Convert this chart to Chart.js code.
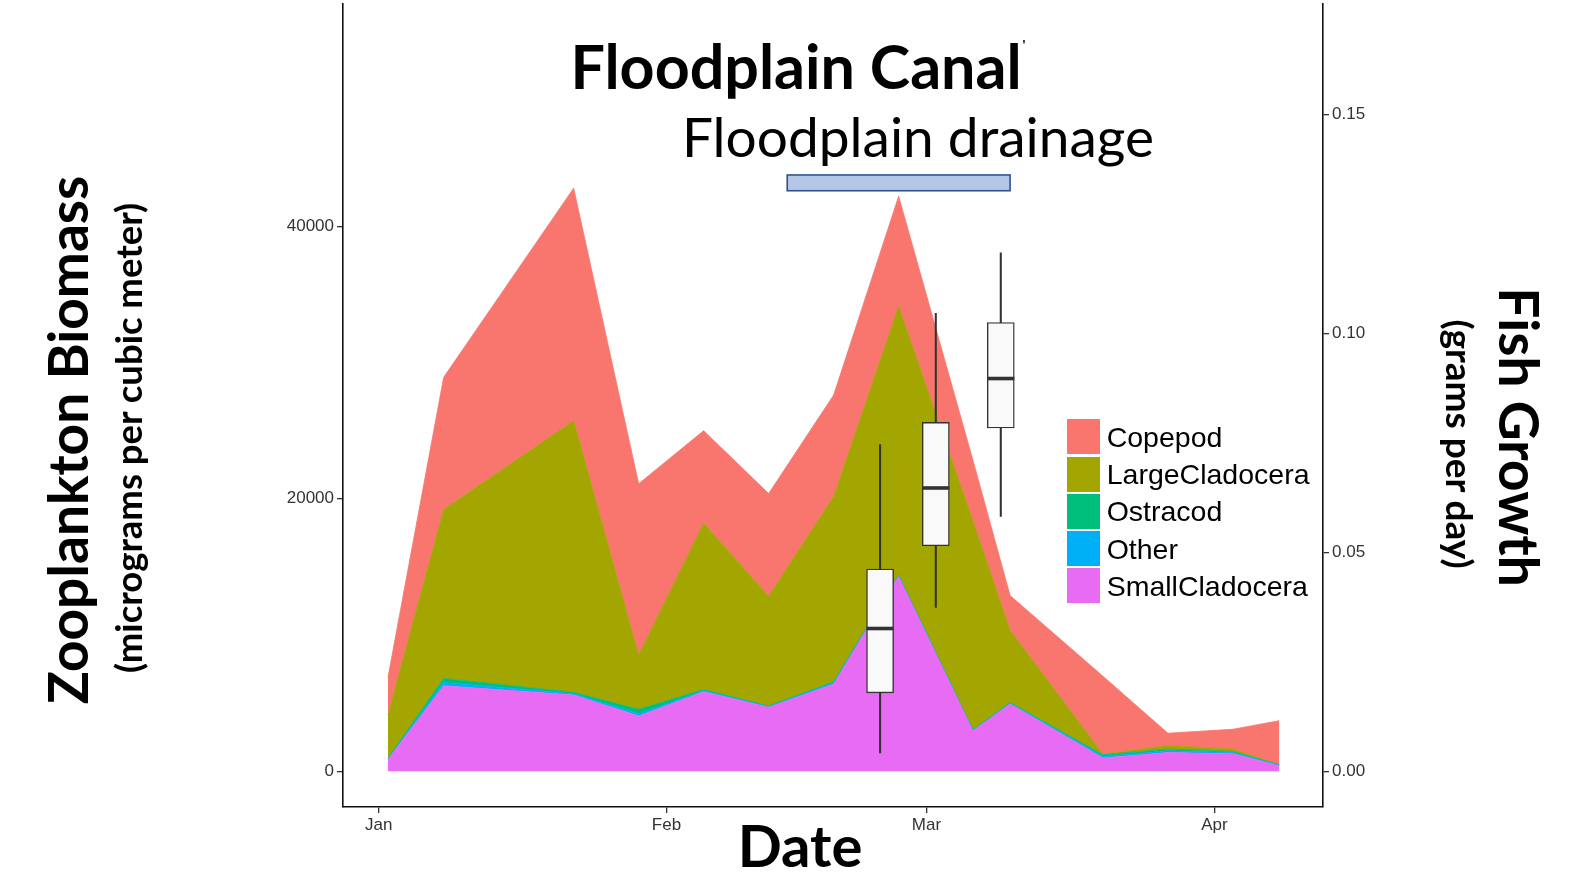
<!DOCTYPE html>
<html>
<head>
<meta charset="utf-8">
<script src="https://cdn.jsdelivr.net/npm/chart.js@4.4.1/dist/chart.umd.min.js"></script>
<style>
  html, body { margin: 0; padding: 0; background: #ffffff; }
  #wrap { position: relative; width: 1574px; height: 885px; overflow: hidden; background: #fff; }
  #c { position: absolute; left: 0; top: 0; }
  .txt { position: absolute; white-space: nowrap; line-height: 1; color: #000; }
  .legend-box { position: absolute; }
  .legend-label { position: absolute; white-space: nowrap; font-family: 'Liberation Sans', Arial, sans-serif; font-size: 28.5px; line-height: 1; color: #000; }
</style>
</head>
<body>
<div id="wrap">
  <canvas id="c" width="1574" height="885"></canvas>
</div>
<script>
// ---------------- DATA ----------------
const categories = ['Copepod', 'LargeCladocera', 'Ostracod', 'Other', 'SmallCladocera'];
const categoryColors = ['#F8766D', '#A3A500', '#00BF7D', '#00B0F6', '#E76BF3'];

const sampleDates = ['2015-01-02', '2015-01-08', '2015-01-22', '2015-01-29', '2015-02-05', '2015-02-12', '2015-02-19',
                     '2015-02-26', '2015-03-06', '2015-03-10', '2015-03-20', '2015-03-27', '2015-04-03', '2015-04-08'];

// biomass (micrograms per cubic meter), one value per sample date
const copepod        = [2750, 9700, 17080, 12590, 6790, 7530, 7450, 8090, 4460, 2560, 5720, 905, 1460, 3225];
const largeCladocera = [3170, 12400, 19930, 3970, 12220, 8060, 13600, 19720, 15330, 5300, 50, 265, 170, 10];
const ostracod       = [50, 290, 100, 340, 80, 40, 70, 40, 30, 50, 120, 120, 80, 35];
const other          = [50, 250, 100, 150, 80, 60, 100, 60, 50, 60, 120, 130, 90, 40];
const smallCladocera = [850, 6270, 5590, 4050, 5830, 4690, 6390, 14300, 2960, 4930, 964, 1370, 1280, 400];

// fish growth (grams per day) box plots
const boxDates  = ['2015-02-24', '2015-03-02', '2015-03-09'];
const boxLow    = [0.0042, 0.0374, 0.0582];
const boxQ1     = [0.0179, 0.0515, 0.0784];
const boxMedian = [0.0326, 0.0647, 0.0897];
const boxQ3     = [0.0462, 0.0797, 0.1025];
const boxHigh   = [0.0746, 0.1046, 0.1184];

// x-axis tick labels (month starts)
const monthTickDates = ['2015-01-01', '2015-02-01', '2015-03-01', '2015-04-01'];
const monthLabels    = ['Jan', 'Feb', 'Mar', 'Apr'];

const leftTicks  = [0, 20000, 40000];
const rightTicks = [0.00, 0.05, 0.10, 0.15];

// floodplain drainage period
const drainageStart = '2015-02-14';
const drainageEnd   = '2015-03-10';

// ---------------- HELPERS ----------------
function dayOf(s) {
  const p = s.split('-').map(Number);
  return (Date.UTC(p[0], p[1] - 1, p[2]) - Date.UTC(p[0], 0, 1)) / 86400000;
}
const sampleDays = sampleDates.map(dayOf);
const boxDays = boxDates.map(dayOf);
const monthDays = monthTickDates.map(dayOf);

const seriesByName = {
  Copepod: copepod, LargeCladocera: largeCladocera, Ostracod: ostracod, Other: other, SmallCladocera: smallCladocera
};
// stack from bottom to top: reverse of legend order
const stackOrder = categories.slice().reverse();

function makeDatasets() {
  const areaDatasets = stackOrder.map((name, i) => {
    const color = categoryColors[categories.indexOf(name)];
    return {
      type: 'line',
      label: name,
      data: sampleDays.map((d, j) => ({ x: d, y: seriesByName[name][j] })),
      yAxisID: 'y',
      backgroundColor: color,
      borderColor: color,
      borderWidth: 0.8,
      fill: i === 0 ? 'origin' : '-1',
      pointRadius: 0,
      tension: 0,
      order: 10
    };
  });
  const whiskerDataset = {
    type: 'bar',
    label: 'whisker',
    data: boxDays.map((d, i) => ({ x: d, y: [boxLow[i], boxHigh[i]] })),
    yAxisID: 'y2',
    backgroundColor: '#333333',
    borderWidth: 0,
    barThickness: 1.4,
    grouped: false,
    order: 3
  };
  const boxDataset = {
    type: 'bar',
    label: 'box',
    data: boxDays.map((d, i) => ({ x: d, y: [boxQ1[i], boxQ3[i]] })),
    yAxisID: 'y2',
    backgroundColor: '#F9F9F9',
    borderColor: '#333333',
    borderWidth: 1.4,
    borderSkipped: false,
    barThickness: 27,
    grouped: false,
    order: 2
  };
  const medianDataset = {
    type: 'line',
    label: 'median',
    data: boxDays.map((d, i) => ({ x: d, y: boxMedian[i] })),
    yAxisID: 'y2',
    showLine: false,
    pointStyle: 'line',
    pointRadius: 13.5,
    pointBorderWidth: 3.6,
    pointBorderColor: '#333333',
    pointBackgroundColor: '#333333',
    order: 1
  };
  return [medianDataset, boxDataset, whiskerDataset].concat(areaDatasets);
}

const drainagePlugin = {
  id: 'drainageBar',
  afterDatasetsDraw(chart) {
    const { ctx, scales } = chart;
    const x0 = scales.x.getPixelForValue(dayOf(drainageStart));
    const x1 = scales.x.getPixelForValue(dayOf(drainageEnd));
    const y0 = scales.y2.getPixelForValue(0.1362);
    const y1 = scales.y2.getPixelForValue(0.1326);
    ctx.save();
    ctx.fillStyle = '#B4C7E7';
    ctx.strokeStyle = '#2F528F';
    ctx.lineWidth = 1.6;
    ctx.fillRect(x0, y0, x1 - x0, y1 - y0);
    ctx.strokeRect(x0, y0, x1 - x0, y1 - y0);
    ctx.restore();
  }
};

const tickFont = { family: "'Liberation Sans', Arial, sans-serif", size: 17 };
const tickColor = '#333333';

// target plot area inside the 1574x885 page
const AREA = { left: 343, right: 1322.7, top: 4, bottom: 807.3 };

function buildChart(canvas) {
  return new Chart(canvas, {
    type: 'line',
    data: { datasets: makeDatasets() },
    plugins: [drainagePlugin],
    options: {
      responsive: false,
      animation: false,
      events: [],
      devicePixelRatio: window.devicePixelRatio || 1,
      layout: { padding: 0 },
      plugins: { legend: { display: false }, tooltip: { enabled: false }, title: { display: false } },
      scales: {
        x: {
          type: 'linear',
          min: -3.84,
          max: 101.7,
          offset: false,
          afterBuildTicks: (s) => { s.ticks = monthDays.map(v => ({ value: v })); },
          afterFit: (s) => { s.height = 78; },
          ticks: {
            font: tickFont, color: tickColor, padding: 2, maxRotation: 0, autoSkip: false,
            callback: (v) => { const k = monthDays.indexOf(v); return k >= 0 ? monthLabels[k] : ''; }
          },
          grid: { display: true, drawOnChartArea: false, drawTicks: true, tickLength: 6, color: '#333333', lineWidth: 1.3, offset: false },
          border: { display: true, color: '#111111', width: 1.6 }
        },
        y: {
          type: 'linear',
          position: 'left',
          stacked: true,
          min: -2627,
          max: 56310,
          afterBuildTicks: (s) => { s.ticks = leftTicks.map(v => ({ value: v })); },
          afterFit: (s) => { s.width = 343; },
          ticks: { font: tickFont, color: tickColor, padding: 3, callback: (v) => String(v) },
          grid: { display: true, drawOnChartArea: false, drawTicks: true, tickLength: 6, color: '#333333', lineWidth: 1.3 },
          border: { display: true, color: '#111111', width: 1.6 }
        },
        y2: {
          type: 'linear',
          position: 'right',
          stacked: false,
          min: -0.00817,
          max: 0.17523,
          afterBuildTicks: (s) => { s.ticks = rightTicks.map(v => ({ value: v })); },
          afterFit: (s) => { s.width = 251; },
          ticks: { font: tickFont, color: tickColor, padding: 3, callback: (v) => Number(v).toFixed(2) },
          grid: { display: true, drawOnChartArea: false, drawTicks: true, tickLength: 6, color: '#333333', lineWidth: 1.3 },
          border: { display: true, color: '#111111', width: 1.6 }
        }
      }
    }
  });
}

// build, then resize/offset the canvas so the plot area sits exactly where the reference has it
const canvas = document.getElementById('c');
let cw = 1574, ch = 885;
let chart = null;
for (let iter = 0; iter < 3; iter++) {
  if (chart) chart.destroy();
  canvas.width = cw; canvas.height = ch;
  canvas.style.width = cw + 'px'; canvas.style.height = ch + 'px';
  chart = buildChart(canvas);
  const ca = chart.chartArea;
  const dw = (AREA.right - AREA.left) - (ca.right - ca.left);
  const dh = (AREA.bottom - AREA.top) - (ca.bottom - ca.top);
  canvas.style.left = (AREA.left - ca.left) + 'px';
  canvas.style.top = (AREA.top - ca.top) + 'px';
  if (Math.abs(dw) < 0.3 && Math.abs(dh) < 0.3) break;
  cw = Math.round(cw + dw); ch = Math.round(ch + dh);
}

// ---------------- TEXT OVERLAYS ----------------
const wrap = document.getElementById('wrap');
function addText(text, opts) {
  const d = document.createElement('div');
  d.className = 'txt';
  d.textContent = text;
  d.style.fontFamily = opts.family || "Lato, 'Open Sans', sans-serif";
  d.style.fontSize = opts.size + 'px';
  d.style.fontWeight = opts.weight || 'normal';
  d.style.left = opts.cx + 'px';
  d.style.top = opts.cy + 'px';
  d.style.transform = 'translate(-50%, -50%)' + (opts.rot ? ' rotate(' + opts.rot + 'deg)' : '');
  wrap.appendChild(d);
  return d;
}
addText('Floodplain Canal', { size: 61, weight: 'bold', cx: 796, cy: 64.7 });
addText("'", { size: 14, weight: 'bold', cx: 1024, cy: 45 });
addText('Floodplain drainage', { size: 55, weight: 'normal', cx: 918, cy: 135.5 });
addText('Date', { size: 58, weight: 'bold', cx: 800, cy: 845 });
addText('Zooplankton Biomass', { size: 55, weight: 'bold', cx: 67, cy: 440, rot: -90 });
addText('(micrograms per cubic meter)', { size: 36.5, weight: 'bold', cx: 128, cy: 438, rot: -90 });
addText('Fish Growth', { size: 55, weight: 'bold', cx: 1519, cy: 437, rot: 90 });
addText('(grams per day)', { size: 37, weight: 'bold', cx: 1460, cy: 444, rot: 90 });

// legend
categories.forEach((name, i) => {
  const top = 419.4 + i * 37.2;
  const b = document.createElement('div');
  b.className = 'legend-box';
  b.style.left = '1066.7px';
  b.style.top = top + 'px';
  b.style.width = '33px';
  b.style.height = '35px';
  b.style.background = categoryColors[i];
  wrap.appendChild(b);
  const t = document.createElement('div');
  t.className = 'legend-label';
  t.textContent = name;
  t.style.left = '1106.7px';
  t.style.top = (top + 17.5) + 'px';
  t.style.transform = 'translateY(-50%)';
  wrap.appendChild(t);
});
</script>
</body>
</html>
